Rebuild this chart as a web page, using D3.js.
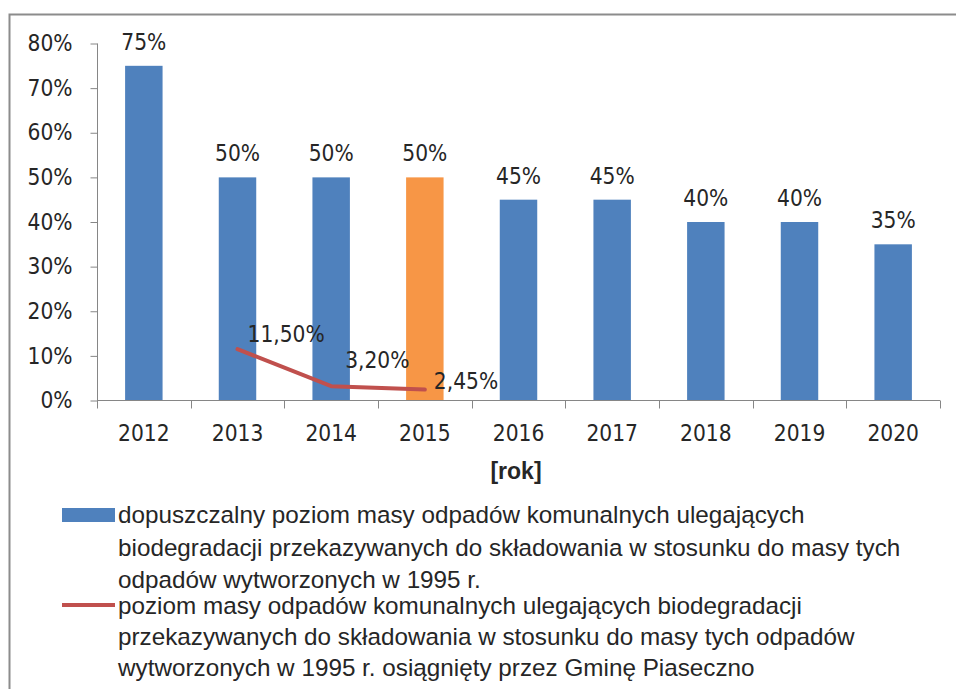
<!DOCTYPE html>
<html><head><meta charset="utf-8">
<script src="https://cdn.jsdelivr.net/npm/d3@7"></script>
<style>body{margin:0;background:#fff}svg{display:block}</style>
</head><body>
<svg id="c" width="956" height="689"></svg>
<script>
const years = ["2012","2013","2014","2015","2016","2017","2018","2019","2020"];
const allowed = [75,50,50,50,45,45,40,40,35];
const allowedLabels = ["75%","50%","50%","50%","45%","45%","40%","40%","35%"];
const achievedYears = ["2013","2014","2015"];
const achieved = [11.5,3.2,2.45];
const achievedLabels = ["11,50%","3,20%","2,45%"];
const yTicks = [0,10,20,30,40,50,60,70,80];
const highlightYear = "2015";
const legendBar = ["dopuszczalny poziom masy odpadów komunalnych ulegających","biodegradacji przekazywanych do składowania w stosunku do masy tych","odpadów wytworzonych w 1995 r."];
const legendLine = ["poziom masy odpadów komunalnych ulegających biodegradacji","przekazywanych do składowania w stosunku do masy tych odpadów","wytworzonych w 1995 r. osiągnięty przez Gminę Piaseczno"];

const svg = d3.select("#c");
const txt = "#262626";
const axisCol = "#868686";
const font = "'DejaVu Sans Condensed', 'DejaVu Sans', Verdana, sans-serif";
const fsz = 22.5;
const legFont = "'Liberation Sans Narrow', 'Liberation Sans', Arial, sans-serif";

// outer frame
svg.append("path").attr("d","M9.5,700 V14.5 H960").attr("fill","none").attr("stroke","#8c8c8c").attr("stroke-width",2);

const x = d3.scaleBand().domain(years).range([97,940]).padding(0);
const y = d3.scaleLinear().domain([0,80]).range([400.5,43.5]);
const barW = x.bandwidth()*0.4;

// bars
svg.append("g").selectAll("rect").data(years).join("rect")
  .attr("x",d=>x(d)+x.bandwidth()/2-barW/2)
  .attr("y",(d,i)=>y(allowed[i]))
  .attr("width",barW)
  .attr("height",(d,i)=>y(0)-y(allowed[i]))
  .attr("fill",d=>d===highlightYear?"#F79646":"#4F81BD");

// bar labels
svg.append("g").selectAll("text").data(years).join("text")
  .attr("x",d=>x(d)+x.bandwidth()/2)
  .attr("y",(d,i)=>y(allowed[i])-16)
  .attr("text-anchor","middle")
  .attr("font-family",font).attr("font-size",fsz).attr("fill",txt)
  .text((d,i)=>allowedLabels[i]);

// y axis
const yAxis = d3.axisLeft(y).tickValues(yTicks).tickFormat(d=>d+"%").tickSize(7).tickPadding(18);
const gy = svg.append("g").attr("transform","translate(97.5,0)").call(yAxis);
gy.select(".domain").attr("stroke",axisCol).attr("d","M0,43.5V400.5");
gy.selectAll(".tick line").attr("stroke",axisCol);
gy.selectAll(".tick text").attr("font-family",font).attr("font-size",fsz).attr("fill",txt);

// x axis
const xAxis = d3.axisBottom(x).tickSize(0).tickPadding(25);
const gx = svg.append("g").attr("transform","translate(0,400.5)").call(xAxis);
gx.select(".domain").attr("stroke",axisCol).attr("d","M97,0H940");
gx.selectAll(".tick text").attr("font-family",font).attr("font-size",fsz).attr("fill",txt);
// boundary tick marks
const bounds = years.map(d=>x(d)).concat([x(years[years.length-1])+x.bandwidth()]);
gx.append("g").selectAll("line").data(bounds).join("line")
  .attr("x1",d=>Math.round(d)+0.5).attr("x2",d=>Math.round(d)+0.5)
  .attr("y1",0).attr("y2",8).attr("stroke",axisCol);

// line
const line = d3.line().x((d,i)=>x(achievedYears[i])+x.bandwidth()/2).y(d=>y(d));
svg.append("path").datum(achieved).attr("d",line)
  .attr("fill","none").attr("stroke","#C0504D").attr("stroke-width",4).attr("stroke-linejoin","round").attr("stroke-linecap","round");
const lblOff = [[10,-7],[14,-18],[9,-1]];
svg.append("g").selectAll("text").data(achieved).join("text")
  .attr("x",(d,i)=>x(achievedYears[i])+x.bandwidth()/2+lblOff[i][0])
  .attr("y",(d,i)=>y(d)+lblOff[i][1])
  .attr("font-family",font).attr("font-size",fsz).attr("fill",txt)
  .text((d,i)=>achievedLabels[i]);

// axis title
svg.append("text").attr("x",516).attr("y",479).attr("text-anchor","middle")
  .attr("font-family",legFont).attr("font-weight","bold").attr("font-size",23).attr("fill",txt).text("[rok]");

// legend
const legG = svg.append("g");
legG.append("rect").attr("x",62).attr("y",508).attr("width",53).attr("height",14).attr("fill","#4F81BD");
legG.append("line").attr("x1",62).attr("x2",115).attr("y1",605).attr("y2",605).attr("stroke","#C0504D").attr("stroke-width",4);
const legLines = legendBar.concat(legendLine);
const legY = [523,556,588,614,645,676];
const lt = legG.selectAll("text.leg").data(legLines).join("text").attr("class","leg")
  .attr("x",118).attr("y",(d,i)=>legY[i])
  .attr("font-family",legFont).attr("font-size",20).attr("fill",txt)
  .text(d=>d);
const w0 = lt.node().getComputedTextLength();
const fs = 20*687/w0;
lt.attr("font-size",fs);
</script>
</body></html>
